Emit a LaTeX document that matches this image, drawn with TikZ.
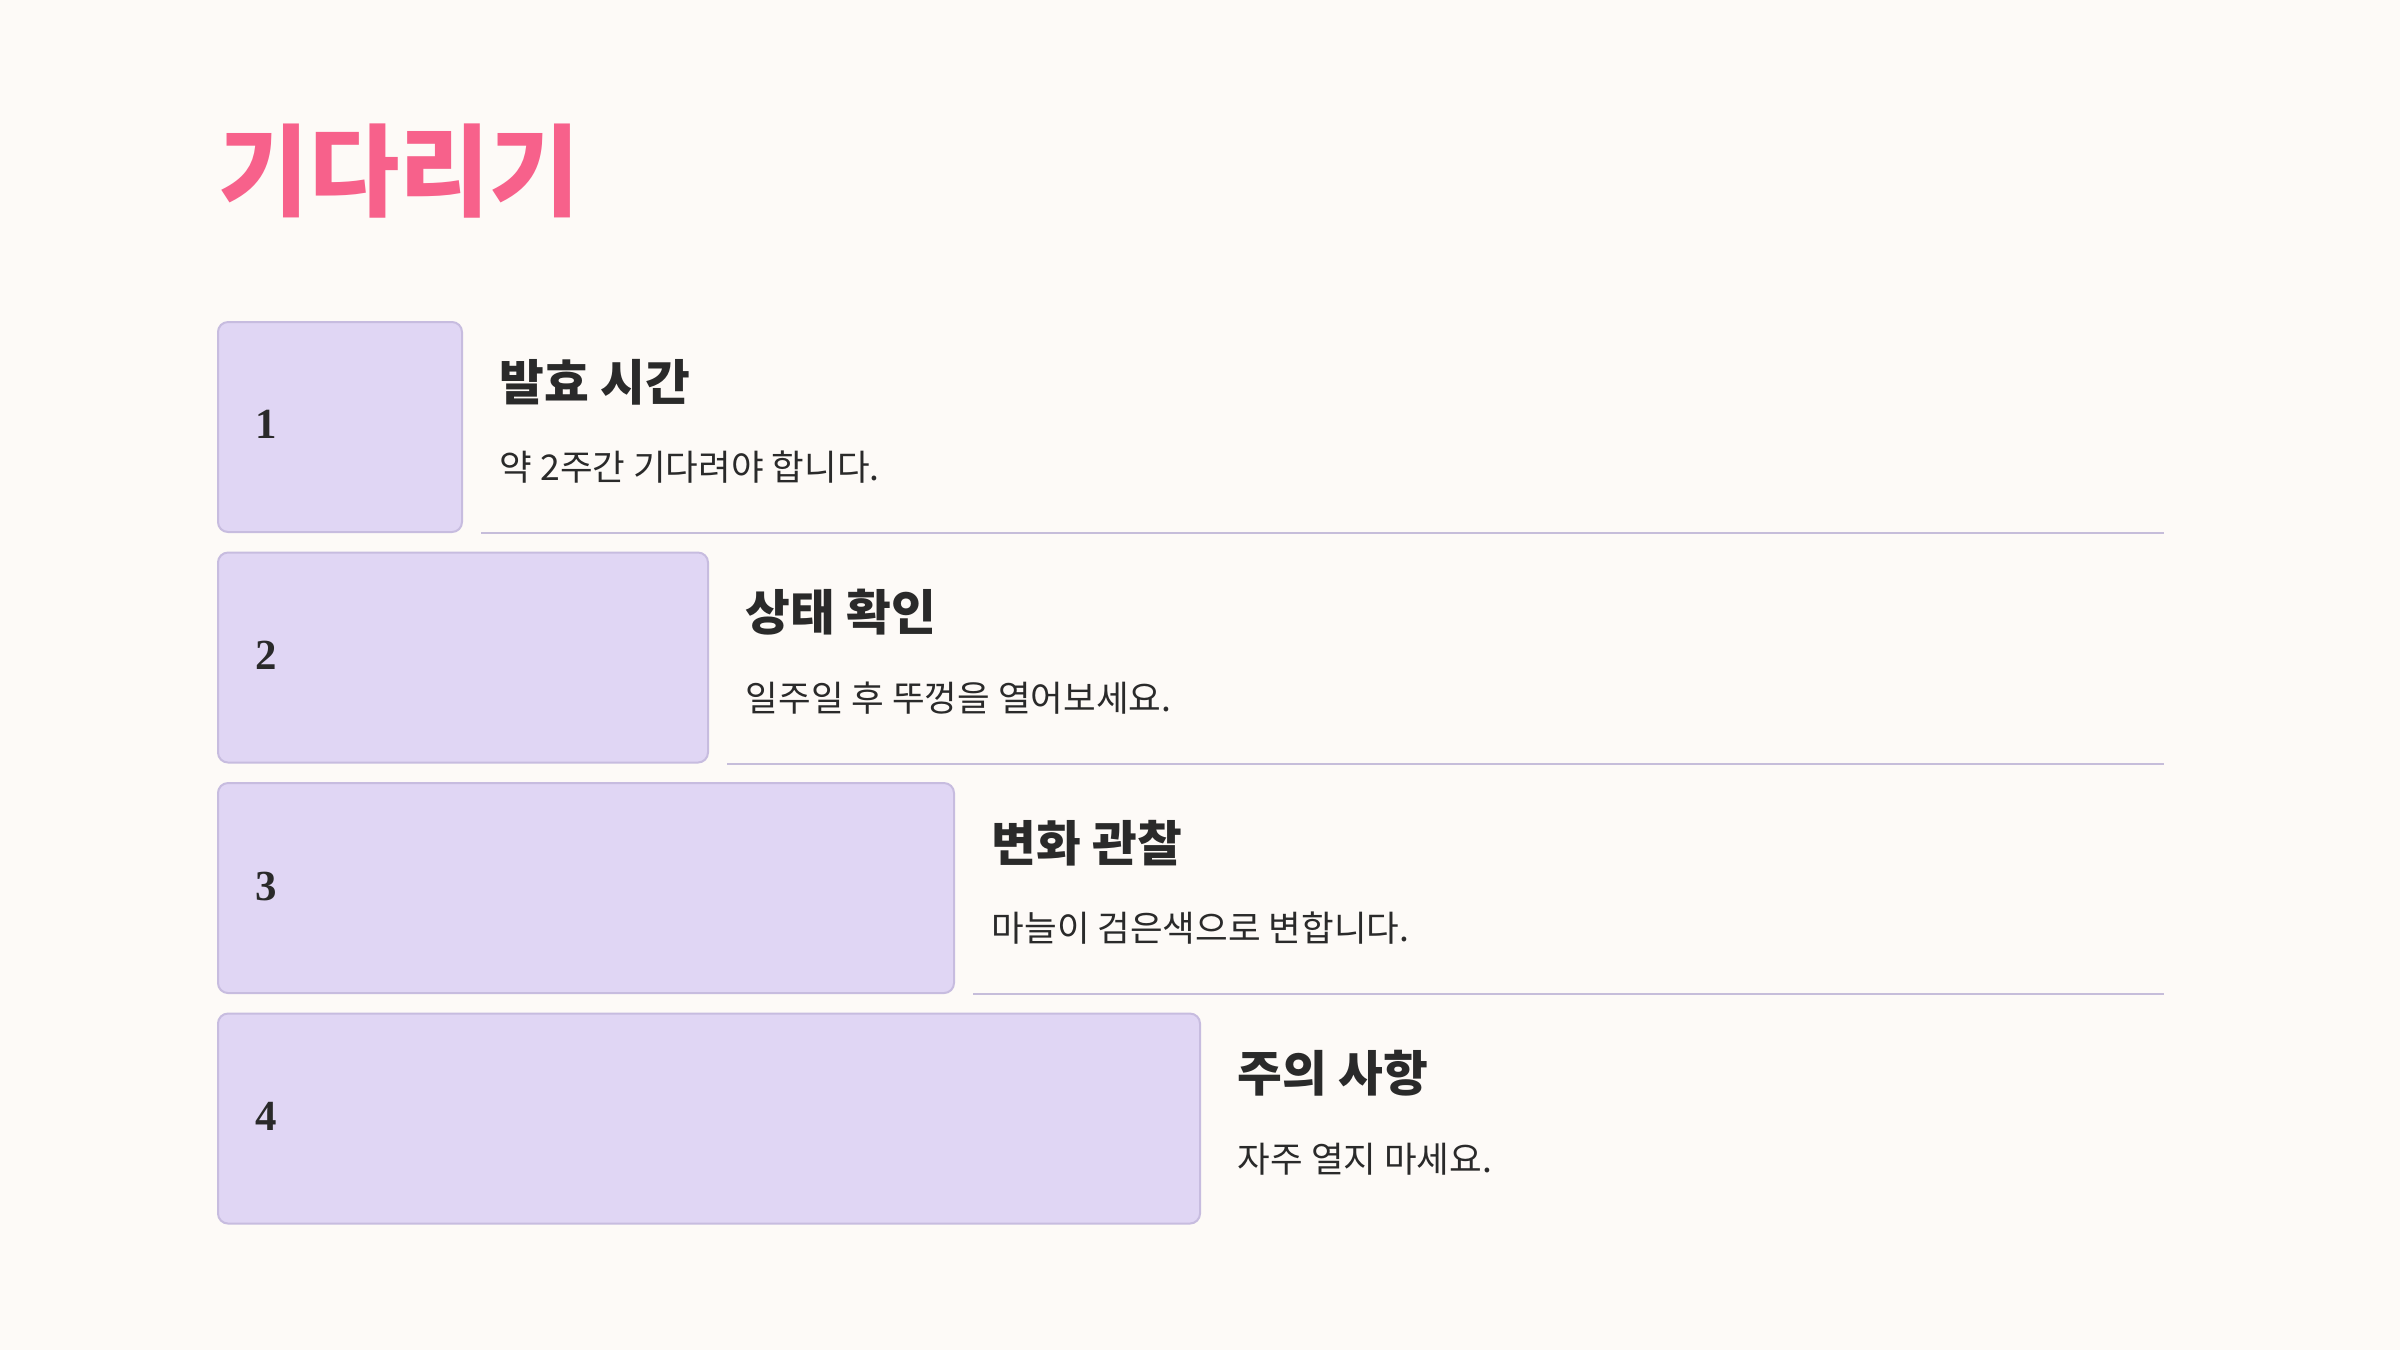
\documentclass[tikz,border=0pt]{standalone}
\usepackage{fontspec}
\usepackage{graphicx}
\newfontfamily\kr{Noto Sans CJK KR}
\newfontfamily\numfont{Liberation Serif}
\definecolor{bgc}{HTML}{FDFAF7}
\definecolor{boxfill}{HTML}{E0D6F4}
\definecolor{boxline}{HTML}{C7BCDF}
\definecolor{sepc}{HTML}{C6BDDA}
\definecolor{titlec}{HTML}{F7618B}
\definecolor{txt}{HTML}{2A2A2A}
\tikzset{
  stepbox/.style={draw=boxline, fill=boxfill, line width=0.57pt, rounded corners=1mm, anchor=north west, inner sep=0pt, minimum height=2.1cm},
  numtext/.style={anchor=base west, inner sep=0pt, text=txt, font=\numfont\bfseries\fontsize{12.2}{14}\selectfont},
  headtext/.style={anchor=base west, inner sep=0pt, text=txt, font=\kr\bfseries\fontsize{13.85}{15}\selectfont},
  bodytext/.style={anchor=base west, inner sep=0pt, text=txt, font=\kr\fontsize{10.1}{12}\selectfont},
  sepline/.style={draw=sepc, line width=0.57pt}
}
\begin{document}
\begin{tikzpicture}[x=1cm,y=1cm]
\fill[bgc] (0,0) rectangle (24,-13.5);
\useasboundingbox (0,0) rectangle (24,-13.5);
\node[anchor=base west, inner sep=0pt, text=titlec, font=\kr\bfseries\fontsize{28.5}{30}\selectfont] (title) at (2.18,-2.085) {\scalebox{0.98}[1]{기다리기}};
% boxes
\node[stepbox, minimum width=2.44cm] (b1) at (2.17,-3.21) {};
\node[stepbox, minimum width=4.90cm] (b2) at (2.17,-5.515) {};
\node[stepbox, minimum width=7.36cm] (b3) at (2.17,-7.82) {};
\node[stepbox, minimum width=9.82cm] (b4) at (2.17,-10.125) {};
% numbers
\node[numtext] (n1) at (2.55,-4.38) {1};
\node[numtext] (n2) at (2.55,-6.695) {2};
\node[numtext] (n3) at (2.55,-9.00) {3};
\node[numtext] (n4) at (2.55,-11.305) {4};
% headings and texts
\node[headtext] (h1) at ([xshift=3.6mm,yshift=-7.9mm]b1.north east) {발효 시간};
\node[bodytext] (t1) at ([xshift=3.6mm,yshift=-15.95mm]b1.north east) {약 2주간 기다려야 합니다.};
\node[headtext] (h2) at ([xshift=3.6mm,yshift=-7.9mm]b2.north east) {상태 확인};
\node[bodytext] (t2) at ([xshift=3.6mm,yshift=-15.95mm]b2.north east) {일주일 후 뚜껑을 열어보세요.};
\node[headtext] (h3) at ([xshift=3.6mm,yshift=-7.9mm]b3.north east) {변화 관찰};
\node[bodytext] (t3) at ([xshift=3.6mm,yshift=-15.95mm]b3.north east) {마늘이 검은색으로 변합니다.};
\node[headtext] (h4) at ([xshift=3.6mm,yshift=-7.9mm]b4.north east) {주의 사항};
\node[bodytext] (t4) at ([xshift=3.6mm,yshift=-15.95mm]b4.north east) {자주 열지 마세요.};
% separator lines
\coordinate (e1) at (21.64,-5.31);
\draw[sepline] ([xshift=1.8mm]b1.south east) -- (e1 |- b1.south east);
\draw[sepline] ([xshift=1.8mm]b2.south east) -- (e1 |- b2.south east);
\draw[sepline] ([xshift=1.8mm]b3.south east) -- (e1 |- b3.south east);
\end{tikzpicture}
\end{document}
